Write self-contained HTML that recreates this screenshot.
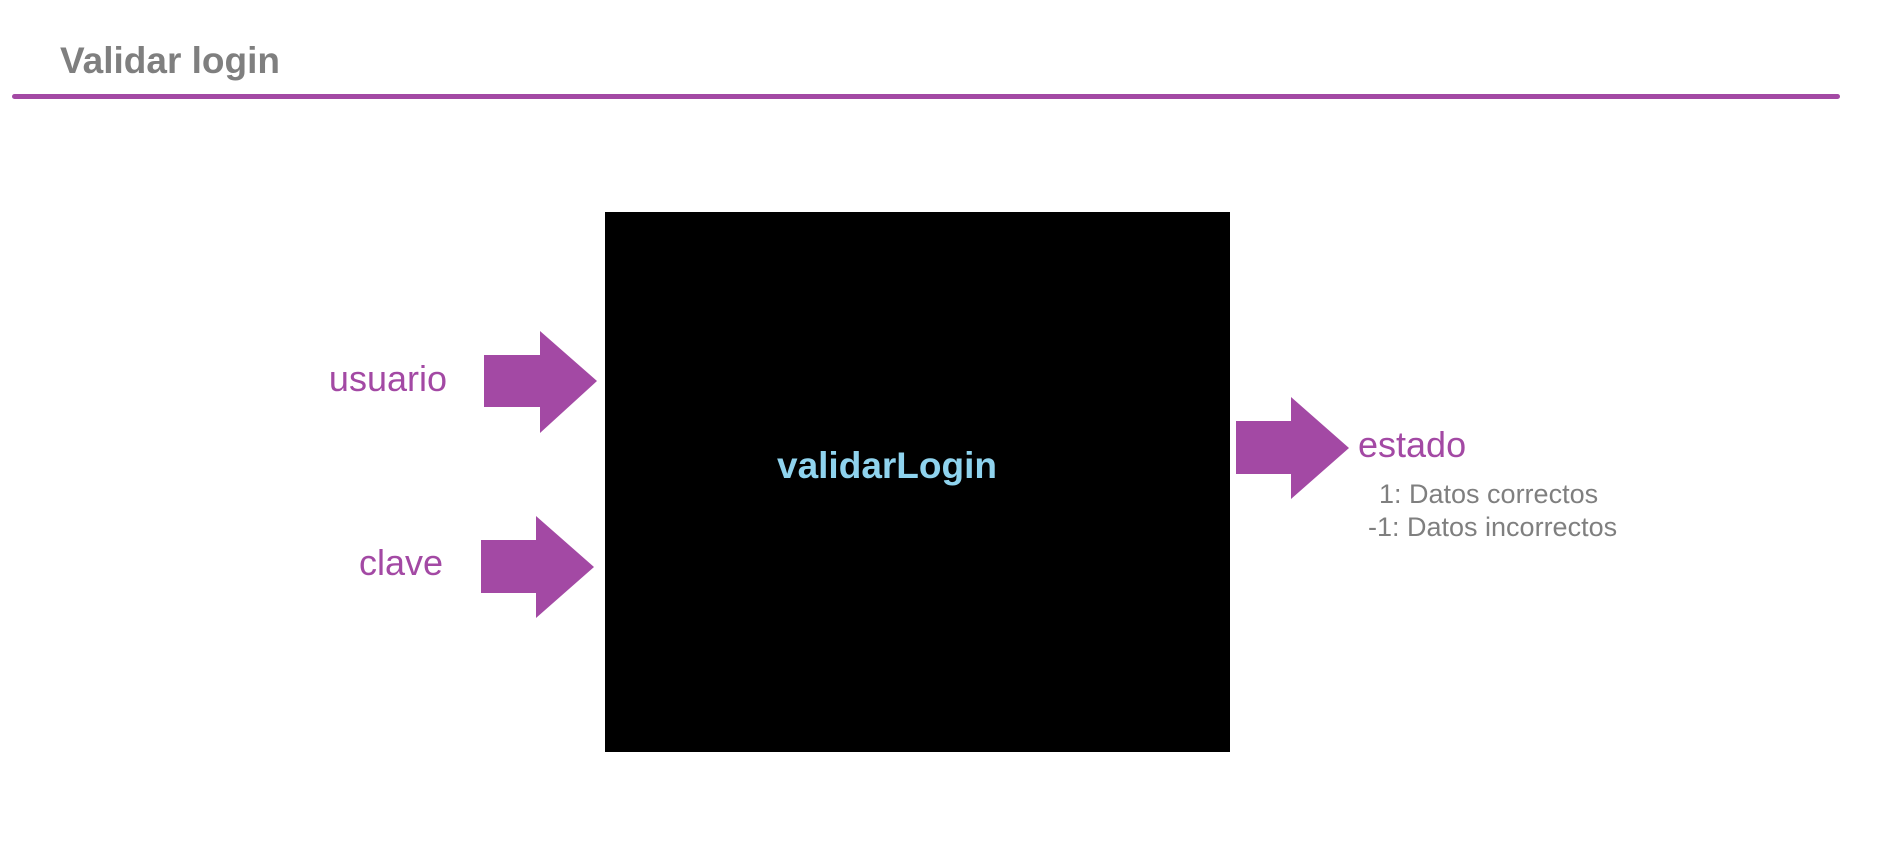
<!DOCTYPE html>
<html><head><meta charset="utf-8"><style>
body{margin:0;width:1884px;height:848px;background:#fff;position:relative;overflow:hidden;font-family:"Liberation Sans",sans-serif}
.t{position:absolute;white-space:nowrap;line-height:1}
</style></head><body>
<div class="t" style="left:60px;top:42px;font-size:37px;font-weight:bold;color:#7f7f7f">Validar login</div>
<div style="position:absolute;left:12px;top:94px;width:1828px;height:5px;background:#a349a4;border-radius:3px"></div>
<div style="position:absolute;left:605px;top:212px;width:625px;height:540px;background:#000"></div>
<div class="t" style="left:605px;width:562px;text-align:right;top:447px;font-size:37px;font-weight:bold;color:#8fd3ee"><span style="position:absolute;left:172px">validarLogin</span></div>
<svg width="1884" height="848" style="position:absolute;left:0;top:0">
<g fill="#a349a4">
<polygon points="484,355 540,355 540,331 597,381 540,433 540,407 484,407"/>
<polygon points="481,540 536,540 536,516 594,567 536,618 536,593 481,593"/>
<polygon points="1236,421 1291,421 1291,397 1349,448 1291,499 1291,474 1236,474"/>
</g></svg>
<div class="t" style="right:1437px;top:361px;font-size:36px;color:#a349a4">usuario</div>
<div class="t" style="right:1441px;top:545px;font-size:36px;color:#a349a4">clave</div>
<div class="t" style="left:1358px;top:427px;font-size:36px;color:#a349a4">estado</div>
<div class="t" style="left:1379px;top:481px;font-size:27px;color:#7f7f7f">1: Datos correctos</div>
<div class="t" style="left:1368px;top:514px;font-size:27px;color:#7f7f7f">-1: Datos incorrectos</div>
</body></html>
